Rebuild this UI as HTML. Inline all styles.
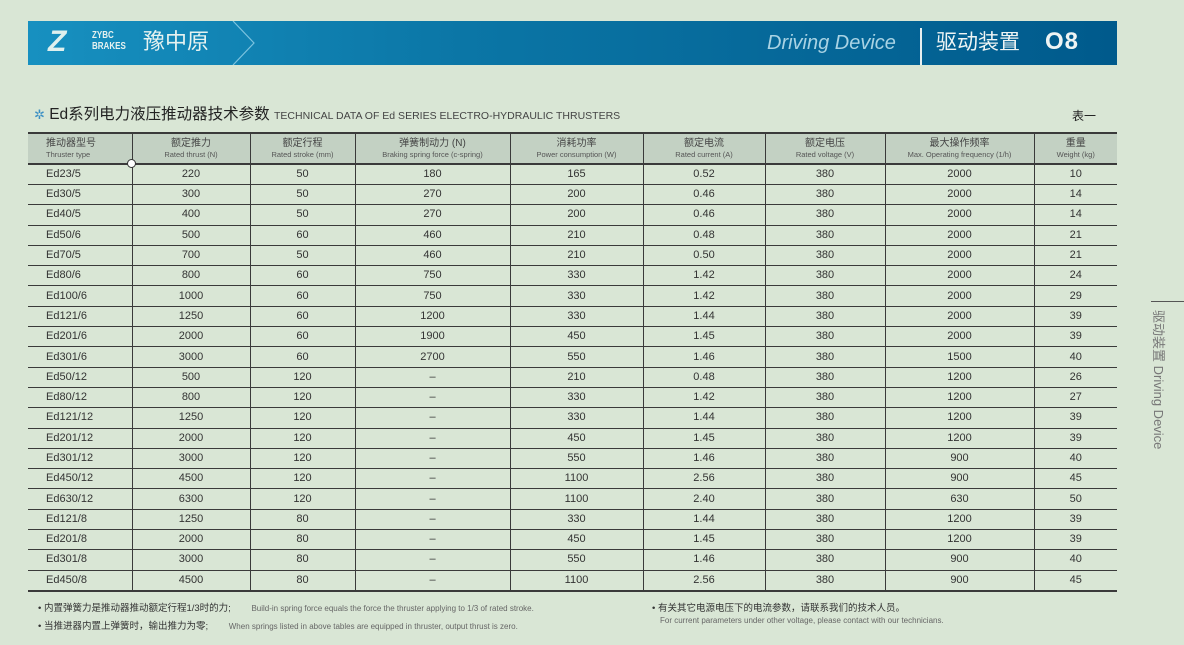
<!DOCTYPE html>
<html><head><meta charset="utf-8"><style>
*{margin:0;padding:0;box-sizing:border-box}
body{width:1184px;height:645px;background:#d9e6d5;position:relative;overflow:hidden;font-family:"Liberation Sans","Noto Sans CJK SC",sans-serif;color:#333}
.ban{position:absolute;left:28px;top:21px;width:1089px;height:44px;background:linear-gradient(90deg,#1790c0 0%,#0b76a6 40%,#005a8c 100%)}
.abs{position:absolute;white-space:nowrap}
table{position:absolute;left:28px;top:132px;border-collapse:collapse;table-layout:fixed;width:1089px}
td{border-bottom:1px solid #3a3a3a;border-left:1px solid #3a3a3a;height:20.3px;font-size:11px;text-align:center;color:#333;padding:0;line-height:19px}
td:first-child{border-left:none;text-align:left;padding-left:18px}
tr.h td{background:#c3d1c3;height:31px;line-height:11px;font-size:10px;border-top:2px solid #3a3a3a;border-bottom:2px solid #3a3a3a;vertical-align:middle;color:#444}
tr.h td:first-child{text-align:left;padding-left:18px}
tr.h small{font-size:7.5px;color:#555;display:block;line-height:11px}
.note{font-size:9.5px;color:#333}
.en{font-size:8px;color:#666}
</style></head><body>
<div class="ban"></div>
<div class="abs" style="left:48px;top:28px;width:38px;height:28px;color:#dff0ee;font:bold 30px 'Liberation Sans';line-height:28px;font-style:italic">Z</div>
<div class="abs" style="left:92px;top:30px;color:#e6f2f0;font:bold 10px 'Liberation Sans';line-height:11px;transform:scaleX(0.8);transform-origin:left">ZYBC<br>BRAKES</div>
<div class="abs" style="left:143px;top:28px;color:#e6f2f0;font-size:22px;line-height:28px">豫中原</div>
<svg class="abs" style="left:228px;top:21px" width="30" height="44"><polyline points="5,0 26,22 5,44" fill="none" stroke="#7cc3df" stroke-width="1.2"/></svg>
<div class="abs" style="left:767px;top:31px;color:#a9d3e4;font-size:20px;font-style:italic;line-height:24px">Driving Device</div>
<div class="abs" style="left:920px;top:28px;width:2px;height:37px;background:#e6eef0"></div>
<div class="abs" style="left:936px;top:29px;color:#eef4f4;font-size:21px;line-height:28px">驱动装置</div>
<div class="abs" style="left:1045px;top:27px;color:#eef4f4;font:bold 24px 'Liberation Sans';line-height:30px;letter-spacing:1px">O8</div>
<div class="abs" style="left:34px;top:104px;font-size:15.5px;color:#222;line-height:22px"><span style="color:#3b8fc4;font-size:13px">✲</span> Ed系列电力液压推动器技术参数 <span style="font-size:10.5px;color:#444">TECHNICAL DATA OF Ed SERIES ELECTRO-HYDRAULIC THRUSTERS</span></div>
<div class="abs" style="left:1072px;top:107px;font-size:12px;color:#222">表一</div>
<table>
<colgroup><col style="width:104px"><col style="width:118px"><col style="width:105px"><col style="width:155px"><col style="width:133px"><col style="width:122px"><col style="width:120px"><col style="width:149px"><col style="width:83px"></colgroup>
<tr class="h"><td>推动器型号<small>Thruster type</small></td><td>额定推力<small>Rated thrust (N)</small></td><td>额定行程<small>Rated stroke (mm)</small></td><td>弹簧制动力 (N)<small>Braking spring force (c-spring)</small></td><td>消耗功率<small>Power consumption (W)</small></td><td>额定电流<small>Rated current (A)</small></td><td>额定电压<small>Rated voltage (V)</small></td><td>最大操作频率<small>Max. Operating frequency (1/h)</small></td><td>重量<small>Weight (kg)</small></td></tr>
<tr><td>Ed23/5</td><td>220</td><td>50</td><td>180</td><td>165</td><td>0.52</td><td>380</td><td>2000</td><td>10</td></tr>
<tr><td>Ed30/5</td><td>300</td><td>50</td><td>270</td><td>200</td><td>0.46</td><td>380</td><td>2000</td><td>14</td></tr>
<tr><td>Ed40/5</td><td>400</td><td>50</td><td>270</td><td>200</td><td>0.46</td><td>380</td><td>2000</td><td>14</td></tr>
<tr><td>Ed50/6</td><td>500</td><td>60</td><td>460</td><td>210</td><td>0.48</td><td>380</td><td>2000</td><td>21</td></tr>
<tr><td>Ed70/5</td><td>700</td><td>50</td><td>460</td><td>210</td><td>0.50</td><td>380</td><td>2000</td><td>21</td></tr>
<tr><td>Ed80/6</td><td>800</td><td>60</td><td>750</td><td>330</td><td>1.42</td><td>380</td><td>2000</td><td>24</td></tr>
<tr><td>Ed100/6</td><td>1000</td><td>60</td><td>750</td><td>330</td><td>1.42</td><td>380</td><td>2000</td><td>29</td></tr>
<tr><td>Ed121/6</td><td>1250</td><td>60</td><td>1200</td><td>330</td><td>1.44</td><td>380</td><td>2000</td><td>39</td></tr>
<tr><td>Ed201/6</td><td>2000</td><td>60</td><td>1900</td><td>450</td><td>1.45</td><td>380</td><td>2000</td><td>39</td></tr>
<tr><td>Ed301/6</td><td>3000</td><td>60</td><td>2700</td><td>550</td><td>1.46</td><td>380</td><td>1500</td><td>40</td></tr>
<tr><td>Ed50/12</td><td>500</td><td>120</td><td>–</td><td>210</td><td>0.48</td><td>380</td><td>1200</td><td>26</td></tr>
<tr><td>Ed80/12</td><td>800</td><td>120</td><td>–</td><td>330</td><td>1.42</td><td>380</td><td>1200</td><td>27</td></tr>
<tr><td>Ed121/12</td><td>1250</td><td>120</td><td>–</td><td>330</td><td>1.44</td><td>380</td><td>1200</td><td>39</td></tr>
<tr><td>Ed201/12</td><td>2000</td><td>120</td><td>–</td><td>450</td><td>1.45</td><td>380</td><td>1200</td><td>39</td></tr>
<tr><td>Ed301/12</td><td>3000</td><td>120</td><td>–</td><td>550</td><td>1.46</td><td>380</td><td>900</td><td>40</td></tr>
<tr><td>Ed450/12</td><td>4500</td><td>120</td><td>–</td><td>1100</td><td>2.56</td><td>380</td><td>900</td><td>45</td></tr>
<tr><td>Ed630/12</td><td>6300</td><td>120</td><td>–</td><td>1100</td><td>2.40</td><td>380</td><td>630</td><td>50</td></tr>
<tr><td>Ed121/8</td><td>1250</td><td>80</td><td>–</td><td>330</td><td>1.44</td><td>380</td><td>1200</td><td>39</td></tr>
<tr><td>Ed201/8</td><td>2000</td><td>80</td><td>–</td><td>450</td><td>1.45</td><td>380</td><td>1200</td><td>39</td></tr>
<tr><td>Ed301/8</td><td>3000</td><td>80</td><td>–</td><td>550</td><td>1.46</td><td>380</td><td>900</td><td>40</td></tr>
<tr><td style="border-bottom:2px solid #3a3a3a">Ed450/8</td><td style="border-bottom:2px solid #3a3a3a">4500</td><td style="border-bottom:2px solid #3a3a3a">80</td><td style="border-bottom:2px solid #3a3a3a">–</td><td style="border-bottom:2px solid #3a3a3a">1100</td><td style="border-bottom:2px solid #3a3a3a">2.56</td><td style="border-bottom:2px solid #3a3a3a">380</td><td style="border-bottom:2px solid #3a3a3a">900</td><td style="border-bottom:2px solid #3a3a3a">45</td></tr>
</table>
<div class="abs" style="left:127px;top:159px;width:9px;height:9px;border:1.5px solid #333;border-radius:50%;background:#fff"></div>
<div class="abs note" style="left:38px;top:600px">• 内置弹簧力是推动器推动额定行程1/3时的力; <span class="en" style="margin-left:18px">Build-in spring force equals the force the thruster applying to 1/3 of rated stroke.</span></div>
<div class="abs note" style="left:38px;top:618px">• 当推进器内置上弹簧时，输出推力为零; <span class="en" style="margin-left:18px">When springs listed in above tables are equipped in thruster, output thrust is zero.</span></div>
<div class="abs note" style="left:652px;top:600px">• 有关其它电源电压下的电流参数，请联系我们的技术人员。</div>
<div class="abs en" style="left:660px;top:616px">For current parameters under other voltage, please contact with our technicians.</div>
<div class="abs" style="left:1151px;top:301px;width:33px;height:1px;background:#555"></div>
<div class="abs" style="left:1150px;top:310px;writing-mode:vertical-rl;text-orientation:sideways;font-size:13px;color:#777;line-height:16px">驱动装置 Driving Device</div>
</body></html>
